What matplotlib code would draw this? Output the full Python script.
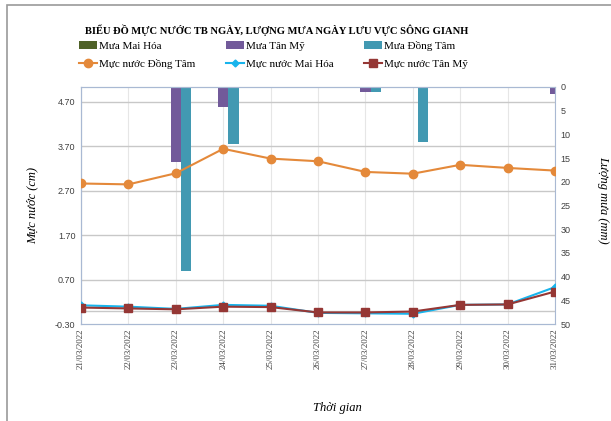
import matplotlib
matplotlib.use("Agg")
import matplotlib.pyplot as plt
import matplotlib.transforms as mtransforms
from matplotlib.patches import Rectangle
import numpy as np

dates = ["21/03/2022", "22/03/2022", "23/03/2022", "24/03/2022", "25/03/2022",
         "26/03/2022", "27/03/2022", "28/03/2022", "29/03/2022", "30/03/2022",
         "31/03/2022"]

# rainfall (mm)
mua_mai_hoa = [0, 0, 0, 0, 0, 0, 0, 0, 0, 0, 0]
mua_tan_my = [0, 0, 15.8, 4.2, 0, 0, 1.0, 0.2, 0, 0, 1.5]
mua_dong_tam = [0, 0, 38.8, 12.0, 0, 0, 1.0, 11.5, 0, 0, 0]

# water level (cm)
mn_dong_tam = [2.86, 2.84, 3.09, 3.64, 3.42, 3.36, 3.12, 3.08, 3.28, 3.21, 3.15]
mn_mai_hoa = [0.12, 0.09, 0.04, 0.13, 0.11, -0.05, -0.06, -0.07, 0.13, 0.14, 0.53]
mn_tan_my = [0.07, 0.05, 0.03, 0.09, 0.08, -0.04, -0.04, -0.02, 0.13, 0.14, 0.43]

left_ticks = [-0.30, 0.70, 1.70, 2.70, 3.70, 4.70]
right_ticks = list(range(0, 55, 5))

SERIF = "Liberation Serif"
SANS = "Liberation Sans"

fig = plt.figure(figsize=(6.11, 4.21), dpi=100)
fig.patch.set_facecolor("white")

# outer chart frame
fig.add_artist(Rectangle((7 / 611, -0.1), 1.2, (1 - 5 / 421) + 0.1,
                         transform=fig.transFigure, fill=False,
                         edgecolor="#9a9a9a", linewidth=1.2))

ax = fig.add_axes([81 / 611, 1 - 324 / 421, 474 / 611, 237 / 421])
ax2 = ax.twinx()

x = np.arange(len(dates))
w = 0.22

# bars on the rain axis (right, inverted)
ax.bar(x - w, mua_mai_hoa, w, color="#4f6228", label="Mưa Mai Hóa", zorder=2)
ax.bar(x, mua_tan_my, w, color="#725a9a", label="Mưa Tân Mỹ", zorder=2)
ax.bar(x + w, mua_dong_tam, w, color="#4299b2", label="Mưa Đồng Tâm", zorder=2)
ax.set_ylim(50, 0)
ax.set_xlim(0, len(dates) - 1)
ax.yaxis.tick_right()
ax.set_yticks(right_ticks)
ax.set_xticks(x)
ax.set_xticklabels(dates, rotation=90, fontsize=6.5, family=SERIF, color="#404040")
ax.grid(axis="x", color="#e6e6e6", linewidth=0.8, zorder=0)
ax.set_axisbelow(True)

# water level lines (left axis)
ax2.plot(x, mn_dong_tam, color="#e4893a", marker="o", markersize=6,
         linewidth=1.5, label="Mực nước Đồng Tâm", zorder=3)
ax2.plot(x, mn_mai_hoa, color="#18b4ec", marker="D", markersize=3.5,
         linewidth=1.5, label="Mực nước Mai Hóa", zorder=3)
ax2.plot(x, mn_tan_my, color="#953735", marker="s", markersize=6,
         linewidth=1.5, label="Mực nước Tân Mỹ", zorder=4)
ax2.set_ylim(-0.30, 5.03)
ax2.yaxis.tick_left()
ax2.yaxis.set_label_position("left")
ax2.set_yticks(left_ticks)
ax2.set_yticklabels([f"{v:.2f}" for v in left_ticks])

# horizontal gridlines under the bars
blend = mtransforms.blended_transform_factory(ax.transAxes, ax2.transData)
for v in left_ticks[1:] + [0.0]:
    ax.plot([0, 1], [v, v], transform=blend, color="#c8c8c8", linewidth=1.0,
            zorder=1)

for a in (ax, ax2):
    for s in a.spines.values():
        s.set_color("#a9b9d3")
    a.tick_params(length=0, labelsize=6.5, colors="#404040", pad=4)
ax.tick_params(axis="x", pad=3)
ax2.spines["right"].set_visible(False)
for lbl in ax.get_yticklabels() + ax2.get_yticklabels():
    lbl.set_family(SANS)

fig.text(277 / 611, 1 - 30 / 421, "BIỂU ĐỒ MỰC NƯỚC TB NGÀY, LƯỢNG MƯA NGÀY LƯU VỰC SÔNG GIANH",
         ha="center", va="center", fontsize=7.6, fontweight="bold", family=SERIF)

h1, l1 = ax.get_legend_handles_labels()
h2, l2 = ax2.get_legend_handles_labels()
handles = [h1[0], h2[0], h1[1], h2[1], h1[2], h2[2]]
labels = [l1[0], l2[0], l1[1], l2[1], l1[2], l2[2]]
fig.legend(handles, labels, ncol=3, loc="upper left",
           bbox_to_anchor=(79 / 611, 1 - 41 / 421), frameon=False,
           prop={"family": SERIF, "size": 8}, handlelength=1.6,
           handletextpad=0.2, columnspacing=2.75, labelspacing=0.75,
           borderaxespad=0, borderpad=0)

fig.text(32 / 611, 1 - 205 / 421, "Mực nước (cm)", rotation=90, ha="center",
         va="center", fontsize=9, style="italic", family=SERIF)
fig.text(603 / 611, 1 - 200 / 421, "Lượng mưa (mm)", rotation=270, ha="center",
         va="center", fontsize=9, style="italic", family=SERIF)
fig.text(337 / 611, 1 - 408 / 421, "Thời gian", ha="center", va="center",
         fontsize=9, style="italic", family=SERIF)

fig.savefig("out.png", dpi=100)
